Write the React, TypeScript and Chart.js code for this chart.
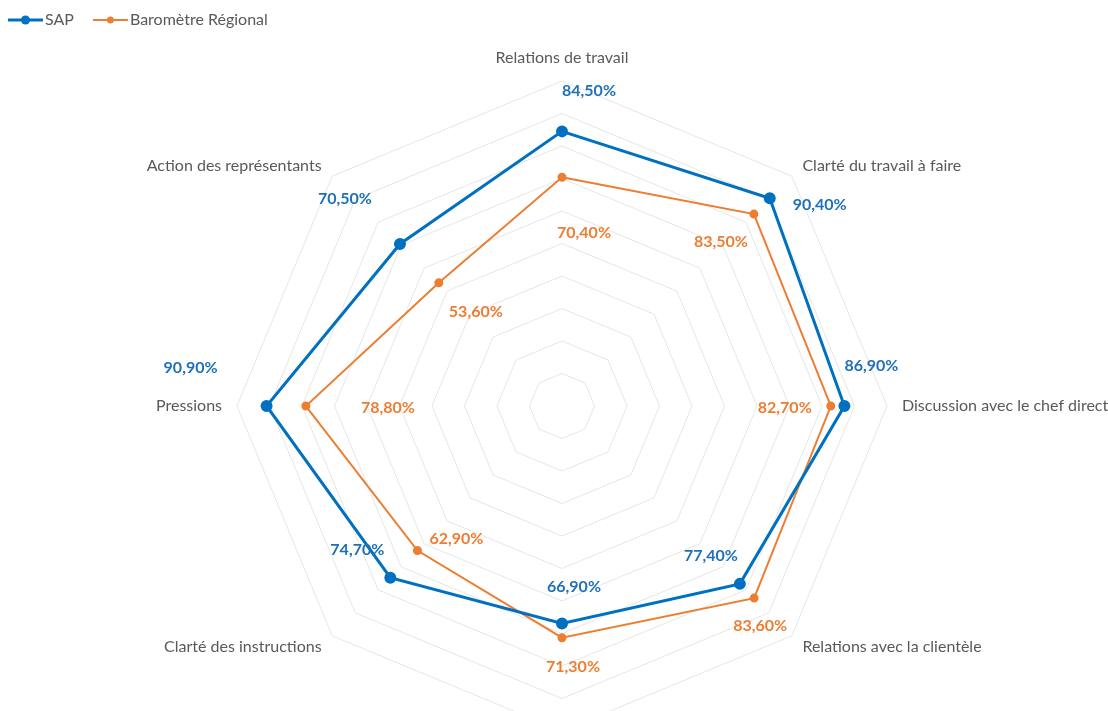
import React, { useEffect, useRef } from 'react';
import { Chart, registerables } from 'chart.js';

Chart.register(...registerables);

// ---- Data ----
const categories = [
  'Relations de travail',
  'Clarté du travail à faire',
  'Discussion avec le chef direct',
  'Relations avec la clientèle',
  '',
  'Clarté des instructions',
  'Pressions',
  'Action des représentants',
];
const seriesNames = ['SAP', 'Baromètre Régional'];
const sapValues = [84.5, 90.4, 86.9, 77.4, 66.9, 74.7, 90.9, 70.5];
const barometreValues = [70.4, 83.5, 82.7, 83.6, 71.3, 62.9, 78.8, 53.6];
const scaleMin = 0;
const scaleMax = 100;
const scaleStep = 10;

// ---- Label placement (style, not data) ----
const sapLabelOffsets = [[27, -41], [50, 7], [27, -40], [-29, -28], [12, -37], [-33, -28], [-76, -38], [-55, -45]];
const barometreLabelOffsets = [[22, 56], [-33, 28], [-46, 2], [6, 28], [11, 29], [39, -12], [82, 2], [37, 29]];

const BLUE = '#0070C0';
const ORANGE = '#ED7D31';
const GREY_TEXT = '#595959';
const FONT = 'Lato, "Open Sans", sans-serif';

const fmt = (v: number) => v.toFixed(2).replace('.', ',') + '%';

const pointLabelPlugin = {
  id: 'customPointLabels',
  afterDraw(chart: any) {
    const scale = chart.scales.r;
    const ctx = chart.ctx;
    ctx.save();
    ctx.font = `16px ${FONT}`;
    ctx.fillStyle = GREY_TEXT;
    const labels = chart.data.labels as string[];
    labels.forEach((lab, i) => {
      const p = scale.getPointPosition(i, scale.drawingArea + 15);
      const dx = p.x - scale.xCenter;
      const dy = p.y - scale.yCenter;
      if (Math.abs(dx) < 1) {
        ctx.textAlign = 'center';
        ctx.textBaseline = dy < 0 ? 'bottom' : 'top';
      } else {
        ctx.textAlign = dx > 0 ? 'left' : 'right';
        ctx.textBaseline = 'middle';
      }
      ctx.fillText(lab, p.x, p.y);
    });
    ctx.restore();
  },
};

const dataLabelPlugin = {
  id: 'customDataLabels',
  afterDatasetsDraw(chart: any) {
    const ctx = chart.ctx;
    ctx.save();
    ctx.font = `bold 16px ${FONT}`;
    ctx.textAlign = 'center';
    ctx.textBaseline = 'middle';
    chart.data.datasets.forEach((ds: any, di: number) => {
      const meta = chart.getDatasetMeta(di);
      const offs = ds.labelOffsets as number[][];
      ctx.fillStyle = ds.labelColor;
      meta.data.forEach((el: any, i: number) => {
        const o = offs[i] || [0, 0];
        ctx.fillText(fmt(ds.data[i]), el.x + o[0], el.y + o[1]);
      });
    });
    ctx.restore();
  },
};

const legendPlugin = {
  id: 'customLegend',
  afterDraw(chart: any) {
    const ctx = chart.ctx;
    ctx.save();
    ctx.font = `16px ${FONT}`;
    ctx.textBaseline = 'middle';
    ctx.textAlign = 'left';
    let x = 8;
    const y = 20;
    chart.data.datasets.forEach((ds: any) => {
      ctx.strokeStyle = ds.borderColor;
      ctx.lineWidth = ds.borderWidth;
      ctx.beginPath();
      ctx.moveTo(x, y);
      ctx.lineTo(x + 35, y);
      ctx.stroke();
      ctx.fillStyle = ds.borderColor;
      ctx.beginPath();
      ctx.arc(x + 17.5, y, ds.pointRadius, 0, Math.PI * 2);
      ctx.fill();
      ctx.fillStyle = GREY_TEXT;
      ctx.fillText(ds.label, x + 37, y);
      x += 37 + ctx.measureText(ds.label).width + 19;
    });
    ctx.restore();
  },
};

export default function App() {
  const ref = useRef<HTMLCanvasElement | null>(null);
  useEffect(() => {
    if (!ref.current) return;
    const chart = new Chart(ref.current, {
      type: 'radar',
      data: {
        labels: categories,
        datasets: [
          {
            label: seriesNames[0],
            data: sapValues,
            borderColor: BLUE,
            backgroundColor: BLUE,
            borderWidth: 3,
            pointRadius: 4.5,
            pointBackgroundColor: BLUE,
            pointBorderColor: BLUE,
            fill: false,
            labelOffsets: sapLabelOffsets,
            labelColor: '#1F70B8',
          } as any,
          {
            label: seriesNames[1],
            data: barometreValues,
            borderColor: ORANGE,
            backgroundColor: ORANGE,
            borderWidth: 2,
            pointRadius: 3.5,
            pointBackgroundColor: ORANGE,
            pointBorderColor: ORANGE,
            fill: false,
            labelOffsets: barometreLabelOffsets,
            labelColor: ORANGE,
          } as any,
        ],
      },
      options: {
        responsive: false,
        animation: false,
        layout: { padding: { top: 81, bottom: 81, left: 216, right: 200 } },
        plugins: { legend: { display: false }, tooltip: { enabled: false } },
        elements: { line: { tension: 0 } },
        scales: {
          r: {
            min: scaleMin,
            max: scaleMax,
            ticks: { display: false, stepSize: scaleStep },
            grid: { color: '#E6E6E6', lineWidth: 1, circular: false },
            angleLines: { display: false },
            pointLabels: { display: false },
          },
        },
      },
      plugins: [dataLabelPlugin, pointLabelPlugin, legendPlugin],
    });
    return () => chart.destroy();
  }, []);
  return (
    <div style={{ position: 'fixed', left: 0, top: 0, width: 1108, height: 711, overflow: 'hidden', background: '#fff' }}>
      <canvas ref={ref} width={1108} height={812} style={{ display: 'block' }} />
    </div>
  );
}
